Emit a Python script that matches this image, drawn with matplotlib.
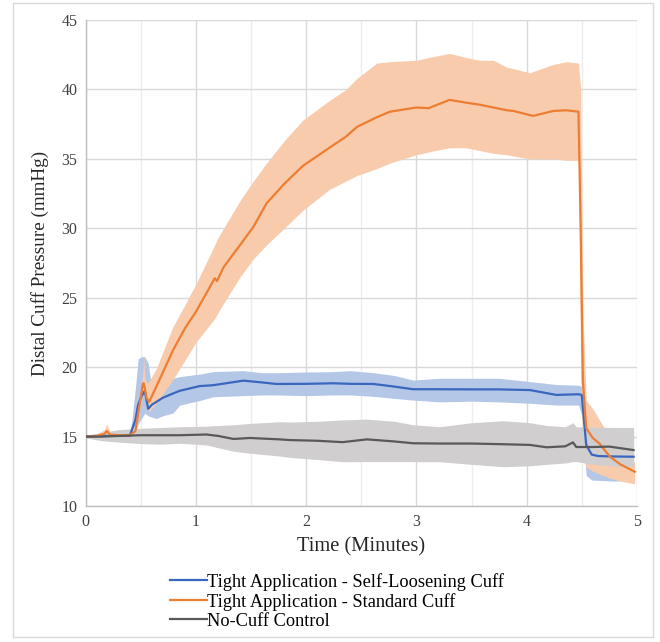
import matplotlib
matplotlib.use('Agg')
import matplotlib.pyplot as plt
from matplotlib.patches import Rectangle
import numpy as np

plt.rcParams['font.family'] = ['Liberation Serif', 'DejaVu Serif']

# Tight Application - Standard Cuff
std_x = [0.00, 0.10, 0.17, 0.19, 0.22, 0.30, 0.40, 0.45, 0.49, 0.515, 0.525, 0.535, 0.55,
         0.575, 0.64, 0.79, 0.90, 1.00, 1.17, 1.19, 1.25, 1.40, 1.52, 1.64, 1.80, 1.97,
         2.21, 2.36, 2.46, 2.64, 2.76, 3.00, 3.11, 3.30, 3.45, 3.575, 3.70, 3.82, 3.88,
         4.03, 4.06, 4.24, 4.36, 4.47, 4.49, 4.51, 4.54, 4.60, 4.66, 4.755, 4.85, 4.98]
std_mean = [15.0, 15.05, 15.2, 15.4, 15.15, 15.1, 15.1, 15.4, 17.4, 18.7, 18.85, 18.5, 17.8,
            17.5, 18.6, 21.2, 22.8, 24.0, 26.4, 26.2, 27.2, 28.8, 30.1, 31.8, 33.2, 34.5,
            35.8, 36.6, 37.3, 38.0, 38.4, 38.7, 38.65, 39.25, 39.05, 38.9, 38.7, 38.5, 38.45,
            38.15, 38.1, 38.45, 38.5, 38.4, 30.0, 19.0, 15.6, 14.9, 14.5, 13.55, 13.0, 12.47]
std_lo = [14.9, 14.9, 15.0, 15.0, 15.0, 15.0, 15.0, 15.1, 17.0, 18.2, 18.3, 18.0, 17.1,
          16.8, 17.4, 19.1, 20.5, 21.8, 23.5, 23.8, 24.6, 26.5, 27.8, 28.8, 30.0, 31.3,
          32.8, 33.4, 33.8, 34.3, 34.7, 35.3, 35.5, 35.8, 35.8, 35.6, 35.4, 35.3, 35.2,
          35.0, 35.0, 35.0, 34.9, 34.9, 20.0, 13.5, 12.8, 12.5, 12.3, 12.0, 11.8, 11.6]
std_hi = [15.1, 15.2, 15.5, 15.9, 15.3, 15.25, 15.3, 15.8, 17.8, 19.4, 20.9, 19.4, 18.8,
          19.0, 19.9, 22.9, 24.5, 26.0, 28.8, 29.2, 30.0, 32.0, 33.4, 34.7, 36.3, 37.8,
          39.2, 40.0, 40.8, 41.9, 42.0, 42.1, 42.3, 42.6, 42.3, 42.1, 42.1, 41.6, 41.5,
          41.2, 41.3, 41.8, 42.0, 41.9, 40.0, 24.0, 17.6, 17.0, 16.2, 15.0, 14.0, 13.1]

# Tight Application - Self-Loosening Cuff
sl_x = [0.00, 0.20, 0.40, 0.414, 0.45, 0.475, 0.505, 0.535, 0.566, 0.60, 0.64, 0.70, 0.79,
        0.853, 1.034, 1.155, 1.43, 1.60, 1.73, 2.00, 2.24, 2.40, 2.61, 2.80, 2.97, 3.21,
        3.50, 3.75, 4.03, 4.27, 4.47, 4.50, 4.54, 4.59, 4.65, 4.78, 4.97]
sl_mean = [15.0, 15.05, 15.05, 15.4, 16.2, 17.3, 17.9, 18.3, 17.0, 17.3, 17.5, 17.8, 18.1,
           18.3, 18.64, 18.7, 19.03, 18.9, 18.79, 18.8, 18.84, 18.8, 18.79, 18.6, 18.41, 18.41,
           18.4, 18.4, 18.35, 18.0, 18.05, 18.0, 14.4, 13.7, 13.6, 13.57, 13.55]
sl_lo = [14.9, 14.9, 14.9, 15.0, 15.3, 15.9, 16.3, 16.7, 16.5, 16.4, 16.3, 16.5, 16.7,
         17.27, 17.6, 17.87, 17.95, 18.0, 18.0, 17.95, 18.0, 18.0, 17.9, 17.75, 17.63, 17.5,
         17.55, 17.5, 17.4, 17.27, 17.27, 16.5, 12.2, 11.87, 11.85, 11.8, 11.8]
sl_hi = [15.1, 15.2, 15.3, 15.9, 18.5, 20.6, 20.75, 20.75, 20.3, 18.4, 18.7, 19.07, 19.2,
         19.32, 19.5, 19.68, 19.75, 19.6, 19.6, 19.65, 19.68, 19.75, 19.6, 19.4, 19.07, 19.2,
         19.2, 19.2, 18.96, 18.75, 18.7, 18.6, 16.0, 15.4, 15.3, 15.25, 15.25]

# No-Cuff Control
nc_x = [0.00, 0.15, 0.30, 0.50, 0.67, 0.853, 1.095, 1.20, 1.34, 1.49, 1.76, 1.85, 2.10,
        2.33, 2.55, 2.80, 2.97, 3.21, 3.50, 3.79, 4.03, 4.18, 4.35, 4.42, 4.45, 4.60,
        4.75, 4.97]
nc_mean = [15.0, 15.0, 15.05, 15.1, 15.1, 15.1, 15.15, 15.05, 14.83, 14.9, 14.8, 14.75, 14.7,
           14.6, 14.8, 14.65, 14.52, 14.5, 14.5, 14.45, 14.4, 14.23, 14.3, 14.58, 14.25, 14.25,
           14.28, 14.03]
nc_lo = [14.9, 14.7, 14.6, 14.5, 14.45, 14.52, 14.4, 14.2, 13.95, 13.8, 13.6, 13.5, 13.35,
         13.19, 13.2, 13.2, 13.2, 13.19, 13.0, 12.83, 12.9, 13.0, 13.1, 13.2, 13.2, 13.0,
         12.9, 12.8]
nc_hi = [15.1, 15.3, 15.5, 15.6, 15.65, 15.71, 15.75, 15.8, 15.85, 15.95, 16.07, 16.05, 16.1,
         16.2, 16.26, 16.1, 15.85, 15.71, 16.0, 16.14, 16.0, 15.8, 15.71, 16.0, 15.71, 15.68,
         15.66, 15.66]

labels = ['Tight Application - Self-Loosening Cuff',
          'Tight Application - Standard Cuff',
          'No-Cuff Control']

fig = plt.figure(figsize=(6.6, 6.42), dpi=100)
ax = fig.add_axes([0.130, 0.2118, 0.835, 0.757])

# frame round the whole chart
fig.patches.append(Rectangle((0.0197, 0.0078), 0.970, 0.9875, transform=fig.transFigure,
                             fill=False, edgecolor='#D9D9D9', linewidth=1.0))

ax.fill_between(sl_x, sl_lo, sl_hi, color='#B4C7E7', linewidth=0, zorder=2)
ax.fill_between(std_x, std_lo, std_hi, color='#F8CBAD', linewidth=0, zorder=2)
ax.fill_between(nc_x, nc_lo, nc_hi, color='#D0CECE', linewidth=0, zorder=2)

ax.plot(sl_x, sl_mean, color='#3A66BE', linewidth=1.6, label=labels[0], zorder=3)
ax.plot(std_x, std_mean, color='#ED7D31', linewidth=1.6, label=labels[1], zorder=3)
ax.plot(nc_x, nc_mean, color='#595959', linewidth=1.6, label=labels[2], zorder=3)

ax.set_xlim(0, 5)
ax.set_ylim(10, 45)
ax.set_xticks(np.arange(0, 6, 1))
ax.set_xticks(np.arange(0.5, 5, 1), minor=True)
ax.set_yticks(np.arange(10, 50, 5))
ax.grid(True, which='major', color='#D9D9D9', linewidth=1.0, zorder=0)
ax.grid(True, which='minor', axis='x', color='#EDEDED', linewidth=1.0, zorder=0)
ax.set_axisbelow(True)
ax.tick_params(which='both', length=0, labelsize=11.5, colors='#404040', pad=6)
for s in ['top', 'right']:
    ax.spines[s].set_visible(False)
for s in ['left', 'bottom']:
    ax.spines[s].set_color('#BFBFBF')
    ax.spines[s].set_linewidth(1.0)

ax.set_xlabel('Time (Minutes)', fontsize=14.8, color='#262626', labelpad=5)
ax.set_ylabel('Distal Cuff Pressure (mmHg)', fontsize=13.8, color='#262626', labelpad=9)

fig.legend(loc='upper left', bbox_to_anchor=(0.258, 0.108), frameon=False, fontsize=13.2,
           handlelength=2.0, handletextpad=0.0, labelspacing=0.12, borderpad=0,
           borderaxespad=0)

fig.savefig('out.png', dpi=100)
plt.close(fig)
